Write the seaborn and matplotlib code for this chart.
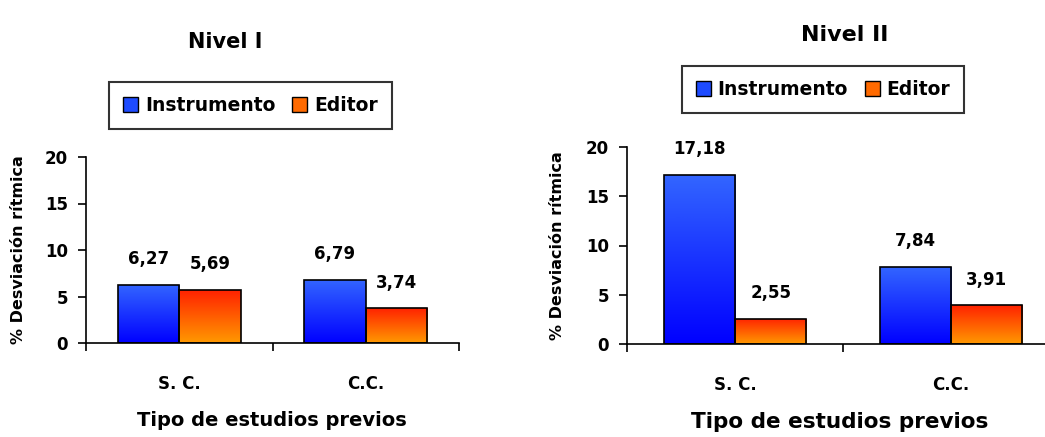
import matplotlib
matplotlib.use("Agg")
import matplotlib.pyplot as plt
import seaborn as sns
import numpy as np
import pandas as pd
from matplotlib.colors import LinearSegmentedColormap
from matplotlib.patches import Patch
from matplotlib.ticker import FixedLocator

# datos
categorias = ["S. C.", "C.C."]
series = ["Instrumento", "Editor"]
nivel1_instrumento = [6.27, 6.79]
nivel1_editor = [5.69, 3.74]
nivel2_instrumento = [17.18, 7.84]
nivel2_editor = [2.55, 3.91]
yticks = [0, 5, 10, 15, 20]

sns.set_style("white")
plt.rcParams['font.family'] = ['DejaVu Sans']
plt.rcParams['font.weight'] = 'bold'
for k in ('text.color', 'axes.labelcolor', 'xtick.color', 'ytick.color'):
    plt.rcParams[k] = 'black'

# degradados (color abajo -> color arriba)
gradientes = {
    "Instrumento": LinearSegmentedColormap.from_list("azul", ["#0000FF", "#3366FF"]),
    "Editor": LinearSegmentedColormap.from_list("naranja", ["#FF9900", "#FF2200"]),
}
colores_legenda = {"Instrumento": "#1E4BFF", "Editor": "#FF6A00"}


def tabla(instrumento, editor):
    return pd.DataFrame({
        "tipo": categorias * 2,
        "serie": [series[0]] * 2 + [series[1]] * 2,
        "valor": instrumento + editor,
    })


def grafico(ax, df, label_x):
    sns.barplot(data=df, x="tipo", y="valor", hue="serie", order=categorias,
                hue_order=series, width=0.66, ax=ax, legend=False,
                palette=colores_legenda, edgecolor="black", linewidth=1.2)
    grad = np.linspace(0, 1, 256).reshape(-1, 1)
    for cont, serie in zip(ax.containers, series):
        for barra in cont:
            x0, y0 = barra.get_x(), barra.get_y()
            w, h = barra.get_width(), barra.get_height()
            barra.set_facecolor("none")
            barra.set_zorder(3)
            img = ax.imshow(grad, cmap=gradientes[serie], origin="lower",
                            extent=(x0, x0 + w, y0, y0 + h), aspect="auto", zorder=2)
            img.set_clip_path(barra)
            texto = f"{h:.2f}".replace(".", ",")
            ax.annotate(texto, (x0 + w / 2, y0 + h), xytext=(0, 18.5),
                        textcoords="offset points", ha="center", va="center",
                        fontsize=12, fontweight="bold")
    ax.set_xlim(-0.5, 1.5)
    ax.set_ylim(0, 20)
    ax.set_yticks(yticks)
    ax.xaxis.set_minor_locator(FixedLocator([-0.5, 0.5, 1.5]))
    ax.tick_params(axis="x", which="major", length=0, pad=23, labelsize=12)
    ax.tick_params(axis="x", which="minor", length=6, width=1.2, direction="out",
                   bottom=True, color="black")
    ax.tick_params(axis="y", length=6, width=1.2, direction="out", left=True,
                   labelsize=12, color="black", pad=7)
    for lab in ax.get_xticklabels() + ax.get_yticklabels():
        lab.set_fontweight("bold")
    ax.set_xlabel("")
    ax.set_ylabel("% Desviación rítmica", fontsize=11.5, fontweight="bold")
    ax.yaxis.set_label_coords(label_x, 0.5)
    sns.despine(ax=ax)
    for s in ("left", "bottom"):
        ax.spines[s].set_color("black")
        ax.spines[s].set_linewidth(1.2)


fig = plt.figure(figsize=(10.45, 4.37), dpi=100)
W, H = 1045, 437

ax1 = fig.add_axes([86 / W, 1 - 343 / H, (459 - 86) / W, (343 - 157) / H])
ax2 = fig.add_axes([627 / W, 1 - 344 / H, (1059 - 627) / W, (344 - 147) / H])

grafico(ax1, tabla(nivel1_instrumento, nivel1_editor), -0.16)
grafico(ax2, tabla(nivel2_instrumento, nivel2_editor), -0.143)

fig.text(225 / W, 1 - 42 / H, "Nivel I", ha="center", va="center", fontsize=15, fontweight="bold")
fig.text(845 / W, 1 - 35 / H, "Nivel II", ha="center", va="center", fontsize=16, fontweight="bold")
fig.text(272 / W, 1 - 420 / H, "Tipo de estudios previos", ha="center", va="center",
         fontsize=14, fontweight="bold")
fig.text(840 / W, 1 - 422 / H, "Tipo de estudios previos", ha="center", va="center",
         fontsize=15.5, fontweight="bold")

handles = [Patch(facecolor=colores_legenda[s], edgecolor="black", linewidth=1) for s in series]
for cx, cy in [((110 + 391) / 2, (83 + 128) / 2), ((683 + 963) / 2, (67 + 112) / 2)]:
    leg = fig.legend(handles, series, loc="center", bbox_to_anchor=(cx / W, 1 - cy / H),
                     ncol=2, frameon=True, fancybox=False, edgecolor="black",
                     handlelength=0.8, handleheight=0.8, handletextpad=0.35,
                     columnspacing=0.9, borderpad=0.75, borderaxespad=0,
                     prop={"size": 13.5, "weight": "bold"})
    leg.get_frame().set_linewidth(1.5)

fig.savefig("out.png", dpi=100)
